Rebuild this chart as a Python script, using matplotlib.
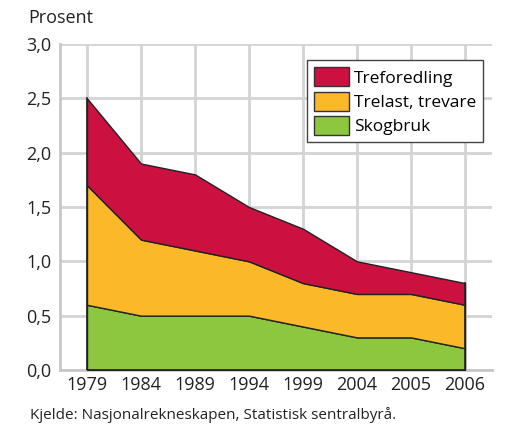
import matplotlib.pyplot as plt
from matplotlib.patches import Patch
import numpy as np

plt.rcParams['font.family'] = ['Open Sans', 'DejaVu Sans']

years = ["1979", "1984", "1989", "1994", "1999", "2004", "2005", "2006"]
skogbruk = [0.6, 0.5, 0.5, 0.5, 0.4, 0.3, 0.3, 0.2]
trelast = [1.1, 0.7, 0.6, 0.5, 0.4, 0.4, 0.4, 0.4]
treforedling = [0.8, 0.7, 0.7, 0.5, 0.5, 0.3, 0.2, 0.2]

labels = ["Skogbruk", "Trelast, trevare", "Treforedling"]
colors = ["#8dc63f", "#fbb829", "#cc1040"]

fig = plt.figure(figsize=(5.1, 4.33), dpi=100)
ax = fig.add_axes([60 / 510, 1 - 370 / 433, 432 / 510, 326 / 433])

x = np.arange(len(years))
ax.stackplot(x, skogbruk, trelast, treforedling, colors=colors,
             edgecolor="#222222", linewidth=1.0, zorder=3)
# the area has no closing edges at the ends, so draw them
top = np.array(skogbruk) + np.array(trelast) + np.array(treforedling)
ax.plot([x[0], x[0]], [0, top[0]], color="#222222", lw=1.2, zorder=4)
ax.plot([x[-1], x[-1]], [0, top[-1]], color="#222222", lw=1.2, zorder=4)
ax.plot([x[0], x[-1]], [0, 0], color="#222222", lw=1.2, zorder=4)

ax.set_xlim(-0.5, len(years) - 0.5)
ax.set_ylim(0, 3.0)
ax.set_xticks(x)
ax.set_xticklabels(years)
yt = np.arange(0, 3.01, 0.5)
ax.set_yticks(yt)
ax.set_yticklabels([f"{v:.1f}".replace(".", ",") for v in yt])
ax.tick_params(length=0, labelsize=13, colors="#222222", pad=6)
ax.tick_params(axis="x", pad=4)
ax.grid(True, color="#d4d4d4", linewidth=2, zorder=0)
ax.set_axisbelow(True)
for side in ["top", "right"]:
    ax.spines[side].set_visible(False)
for side in ["left", "bottom"]:
    ax.spines[side].set_color("#c8c8c8")
    ax.spines[side].set_linewidth(2)

handles = [Patch(facecolor=c, edgecolor="#333333", label=l)
           for c, l in zip(colors[::-1], labels[::-1])]
leg = ax.legend(handles=handles, loc="upper right", bbox_to_anchor=(0.98, 0.95),
                fontsize=12.5, fancybox=False, framealpha=1, edgecolor="#444444",
                handlelength=2.0, handleheight=1.3, handletextpad=0.3,
                labelspacing=0.3, borderpad=0.4, borderaxespad=0)
leg.get_frame().set_linewidth(1.0)

fig.text(28 / 510, 1 - 18 / 433, "Prosent", fontsize=13, color="#222222", va="center")
fig.text(30 / 510, 1 - 415 / 433, "Kjelde: Nasjonalrekneskapen, Statistisk sentralbyrå.",
         fontsize=11, color="#222222", va="center")

fig.savefig("out.png", dpi=100)
